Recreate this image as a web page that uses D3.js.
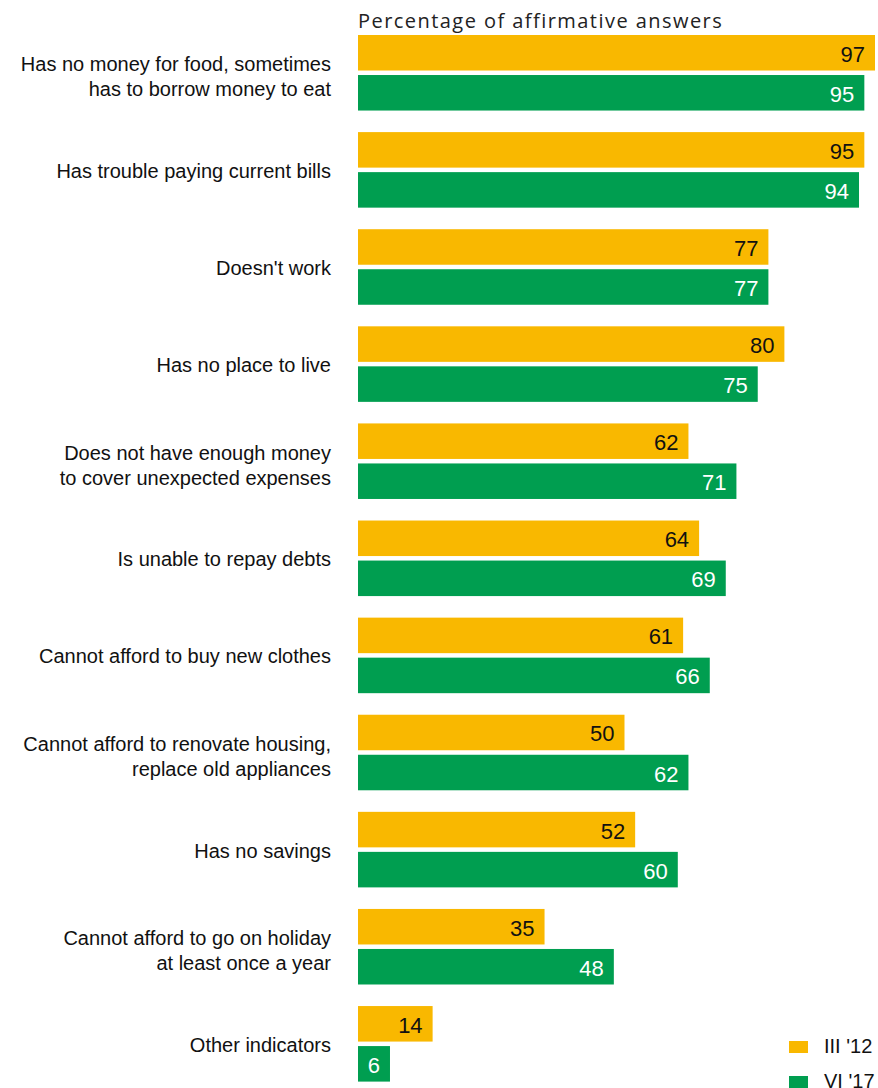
<!DOCTYPE html>
<html>
<head>
<meta charset="utf-8">
<script src="https://cdn.jsdelivr.net/npm/d3@7"></script>
<style>
  body { margin: 0; background: #fff; }
  svg { display: block; }
</style>
</head>
<body>
<div id="chart"></div>
<script>
// chart data
const categories = [
  ["Has no money for food, sometimes", "has to borrow money to eat"],
  ["Has trouble paying current bills"],
  ["Doesn't work"],
  ["Has no place to live"],
  ["Does not have enough money", "to cover unexpected expenses"],
  ["Is unable to repay debts"],
  ["Cannot afford to buy new clothes"],
  ["Cannot afford to renovate housing,", "replace old appliances"],
  ["Has no savings"],
  ["Cannot afford to go on holiday", "at least once a year"],
  ["Other indicators"]
];
const seriesNames = ["III '12", "VI '17"];
const values2012 = [97, 95, 77, 80, 62, 64, 61, 50, 52, 35, 14];
const values2017 = [95, 94, 77, 75, 71, 69, 66, 62, 60, 48, 6];
const colors = ["#F9B800", "#009E50"];
const textColors = ["#111", "#fff"];

const W = 878, H = 1088;
const svg = d3.select("#chart").append("svg").attr("width", W).attr("height", H);

const x = d3.scaleLinear().domain([0, 97]).range([358, 875]);

const y = d3.scaleBand()
  .domain(d3.range(categories.length))
  .range([35, 1081.6])
  .paddingInner(0.222)
  .paddingOuter(0);

const ySub = d3.scaleBand()
  .domain([0, 1])
  .range([0, y.bandwidth()])
  .paddingInner(0.1125);

// title
svg.append("text")
  .attr("x", 358).attr("y", 28)
  .attr("font-family", "Open Sans, sans-serif")
  .attr("font-size", 20)
  .attr("letter-spacing", 1.45)
  .attr("fill", "#222")
  .text("Percentage of affirmative answers");

const groups = svg.selectAll("g.grp")
  .data(categories.map((c, i) => ({ label: c, vals: [values2012[i], values2017[i]], i })))
  .join("g")
  .attr("class", "grp")
  .attr("transform", d => `translate(0,${y(d.i)})`);

// bars
groups.selectAll("rect")
  .data(d => d.vals.map((v, s) => ({ v, s })))
  .join("rect")
  .attr("x", x(0))
  .attr("y", d => ySub(d.s))
  .attr("width", d => x(d.v) - x(0))
  .attr("height", ySub.bandwidth())
  .attr("fill", d => colors[d.s]);

// value labels
groups.selectAll("text.val")
  .data(d => d.vals.map((v, s) => ({ v, s })))
  .join("text")
  .attr("class", "val")
  .attr("x", d => x(d.v) - 10)
  .attr("y", d => ySub(d.s) + ySub.bandwidth() / 2 + 9)
  .attr("text-anchor", "end")
  .attr("font-family", "Liberation Sans, Arial, sans-serif")
  .attr("font-size", 22)
  .attr("fill", d => textColors[d.s])
  .text(d => d.v);

// category labels
groups.each(function (d) {
  const g = d3.select(this);
  const lines = d.label;
  const mid = y.bandwidth() / 2;
  const lh = 25;
  const start = lines.length === 1 ? mid + 8 : mid - 1.5;
  lines.forEach((t, k) => {
    g.append("text")
      .attr("x", 331)
      .attr("y", start + k * lh)
      .attr("text-anchor", "end")
      .attr("font-family", "Liberation Sans, Arial, sans-serif")
      .attr("font-size", 20)
      .attr("fill", "#111")
      .text(t);
  });
});

// legend
const legend = svg.append("g");
seriesNames.forEach((name, s) => {
  const ly = 1041 + s * 35;
  legend.append("rect")
    .attr("x", 789).attr("y", ly)
    .attr("width", 19).attr("height", 12)
    .attr("fill", colors[s]);
  legend.append("text")
    .attr("x", 824).attr("y", ly + 12)
    .attr("font-family", "Liberation Sans, Arial, sans-serif")
    .attr("font-size", 20)
    .attr("fill", "#111")
    .text(name);
});
</script>
</body>
</html>
